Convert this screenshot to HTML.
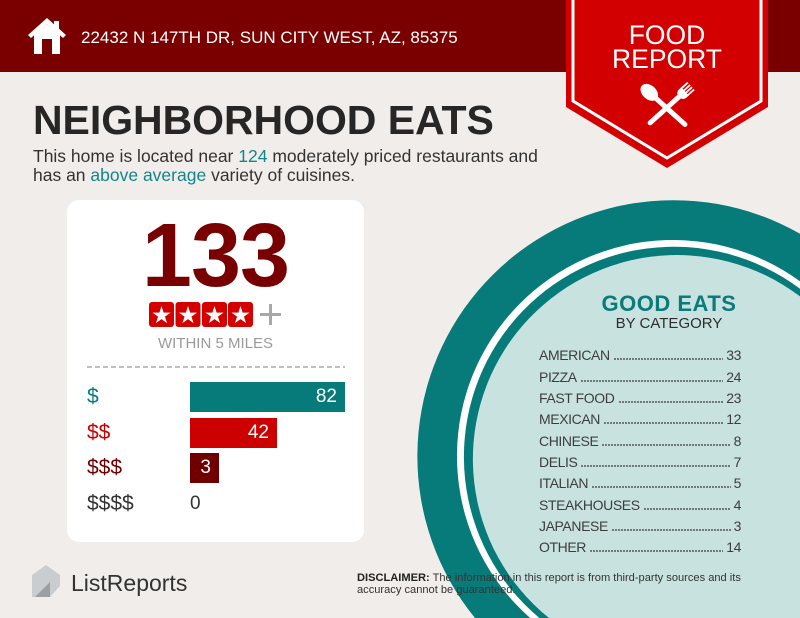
<!DOCTYPE html>
<html><head><meta charset="utf-8">
<style>
*{margin:0;padding:0;box-sizing:border-box}
html,body{width:800px;height:618px;overflow:hidden;background:#f1edea;font-family:"Liberation Sans",sans-serif}
.abs{position:absolute;white-space:nowrap}
#hdr{position:absolute;left:0;top:0;width:800px;height:72px;background:#7a0000}
.teal{color:#12868a}
.row{position:absolute;left:539px;width:202px;height:21.33px;display:flex;align-items:baseline;font-size:14px;letter-spacing:-0.4px;color:#3d3d3d;line-height:21.33px}
.row .d{flex:1;height:2px;margin:0 3px 0 4px;background-image:radial-gradient(circle at 1px 1px,#555 0.75px,transparent 1.15px);background-size:3px 2px;background-repeat:repeat-x}
.lbl{position:absolute;left:87px;font-size:21px;line-height:30px;height:30px}
.bar{position:absolute;left:190px;height:30px;color:#fff;font-size:19px;line-height:30px;text-align:right;padding-right:8px}
</style></head><body>
<div id="hdr"></div>

<svg class="abs" style="left:0;top:0;display:block" width="800" height="618" viewBox="0 0 800 618">
  <!-- big circle (clipped to frame) -->
  <path d="M800,233.7 A256,256 0 0,0 475,618 L800,618 Z" fill="#077a7a"/>
  <path d="M800,281.3 A216,216 0 0,0 530.1,618 L800,618 Z" fill="#ffffff"/>
  <path d="M800,288.8 A210,210 0 0,0 539.4,618 L800,618 Z" fill="#077a7a"/>
  <path d="M800,296.4 A204,204 0 0,0 549,618 L800,618 Z" fill="#c8e2df"/>
  <!-- house icon -->
  <polygon points="47,18 28,35 31,38 47,24 63,38 66,35" fill="#fff"/>
  <rect x="54" y="21" width="5" height="8" fill="#fff"/>
  <polygon points="34,35 47,24 60,35 60,54 52,54 52,39 42,39 42,54 34,54" fill="#fff"/>
  <!-- ribbon -->
  <polygon points="566,0 768,0 768,107 667,168 566,107" fill="#d20000"/>
  <polyline points="573,0 573,101 667,158 761,101 761,0" fill="none" stroke="#fff" stroke-width="3"/>
  <!-- spoon -->
  <g transform="translate(642.6,86.3) rotate(-48)" fill="#fff">
    <ellipse cx="0" cy="9" rx="7" ry="10"/>
    <line x1="0" y1="16" x2="0" y2="57" stroke="#fff" stroke-width="5" stroke-linecap="round"/>
  </g>
  <!-- fork -->
  <g transform="translate(691,86) rotate(48)" fill="#fff">
    <rect x="-5.5" y="0" width="1.8" height="9"/>
    <rect x="-2.3" y="0" width="1.8" height="9"/>
    <rect x="0.7" y="0" width="1.8" height="9"/>
    <rect x="3.8" y="0" width="1.8" height="9"/>
    <path d="M-5.5,8 L5.6,8 L5.6,11 Q5.6,15 1.8,16 L-1.8,16 Q-5.5,15 -5.5,11 Z"/>
    <line x1="0" y1="15" x2="0" y2="55" stroke="#fff" stroke-width="5" stroke-linecap="round"/>
  </g>
  <!-- card -->
  <rect x="67" y="200" width="297" height="342" rx="12" ry="12" fill="#ffffff"/>
  <!-- stars -->
  <g fill="#d40000">
    <rect x="149" y="302" width="25" height="25" rx="3"/>
    <rect x="175.5" y="302" width="25" height="25" rx="3"/>
    <rect x="202" y="302" width="25" height="25" rx="3"/>
    <rect x="228" y="302" width="25" height="25" rx="3"/>
  </g>
  <g fill="#fff">
    <polygon transform="translate(161.5,315.5) scale(9.5)" points="0,-1 0.2245,-0.309 0.951,-0.309 0.363,0.118 0.588,0.809 0,0.382 -0.588,0.809 -0.363,0.118 -0.951,-0.309 -0.2245,-0.309"/>
    <polygon transform="translate(188,315.5) scale(9.5)" points="0,-1 0.2245,-0.309 0.951,-0.309 0.363,0.118 0.588,0.809 0,0.382 -0.588,0.809 -0.363,0.118 -0.951,-0.309 -0.2245,-0.309"/>
    <polygon transform="translate(214.5,315.5) scale(9.5)" points="0,-1 0.2245,-0.309 0.951,-0.309 0.363,0.118 0.588,0.809 0,0.382 -0.588,0.809 -0.363,0.118 -0.951,-0.309 -0.2245,-0.309"/>
    <polygon transform="translate(240.5,315.5) scale(9.5)" points="0,-1 0.2245,-0.309 0.951,-0.309 0.363,0.118 0.588,0.809 0,0.382 -0.588,0.809 -0.363,0.118 -0.951,-0.309 -0.2245,-0.309"/>
  </g>
  <g stroke="#a8a8a8" stroke-width="3">
    <line x1="260" y1="314.5" x2="281" y2="314.5"/>
    <line x1="270.5" y1="304" x2="270.5" y2="325"/>
  </g>
  <line x1="87" y1="367" x2="345" y2="367" stroke="#aaaaaa" stroke-width="1.5" stroke-dasharray="5 3"/>
  <!-- ListReports logo icon -->
  <polygon points="32,597 32,575 46,565 60,575 60,586 50,597" fill="#c9cdd0"/>
  <polygon points="35,597 50,597 50,582" fill="#9c9fa2"/>
</svg>

<div class="abs" style="left:81px;top:29px;font-size:17px;line-height:17px;color:#fff">22432 N 147TH DR, SUN CITY WEST, AZ, 85375</div>
<div class="abs" style="left:566px;width:202px;top:23px;text-align:center;font-size:26.5px;line-height:24px;color:#fff">FOOD<br>REPORT</div>

<div class="abs" style="left:33px;top:100px;font-size:41px;line-height:41px;font-weight:bold;color:#262626;letter-spacing:-0.05px">NEIGHBORHOOD EATS</div>
<div class="abs" style="left:33px;top:146.5px;font-size:17.5px;line-height:19px;color:#333">This home is located near <span class="teal">124</span> moderately priced restaurants and<br>has an <span class="teal">above average</span> variety of cuisines.</div>

<div class="abs" style="left:67px;width:297px;top:211px;text-align:center;font-size:90px;line-height:90px;font-weight:bold;color:#780000;letter-spacing:-1px">133</div>
<div class="abs" style="left:67px;width:297px;top:336px;text-align:center;font-size:15px;line-height:15px;color:#9a9a9a">WITHIN 5 MILES</div>

<div class="lbl" style="top:382px;color:#077a7a">$</div>
<div class="lbl" style="top:418px;color:#cc0000">$$</div>
<div class="lbl" style="top:453px;color:#700000">$$$</div>
<div class="lbl" style="top:489px;color:#333">$$$$</div>
<div class="bar" style="top:382px;width:155px;background:#077a7a">82</div>
<div class="bar" style="top:418px;width:87px;background:#cc0000">42</div>
<div class="bar" style="top:453px;width:29px;background:#700000">3</div>
<div class="abs" style="left:190px;top:489px;font-size:19px;line-height:30px;color:#333">0</div>

<div class="abs" style="left:569px;width:200px;top:293px;text-align:center;font-size:22px;line-height:22px;font-weight:bold;color:#0a7a7a;letter-spacing:0.5px">GOOD EATS</div>
<div class="abs" style="left:569px;width:200px;top:316px;text-align:center;font-size:15px;line-height:15px;color:#2e2e2e">BY CATEGORY</div>

<div class="row" style="top:345.3px"><span>AMERICAN</span><span class="d"></span><span>33</span></div>
<div class="row" style="top:366.7px"><span>PIZZA</span><span class="d"></span><span>24</span></div>
<div class="row" style="top:388px"><span>FAST FOOD</span><span class="d"></span><span>23</span></div>
<div class="row" style="top:409.3px"><span>MEXICAN</span><span class="d"></span><span>12</span></div>
<div class="row" style="top:430.7px"><span>CHINESE</span><span class="d"></span><span>8</span></div>
<div class="row" style="top:452px"><span>DELIS</span><span class="d"></span><span>7</span></div>
<div class="row" style="top:473.3px"><span>ITALIAN</span><span class="d"></span><span>5</span></div>
<div class="row" style="top:494.7px"><span>STEAKHOUSES</span><span class="d"></span><span>4</span></div>
<div class="row" style="top:516px"><span>JAPANESE</span><span class="d"></span><span>3</span></div>
<div class="row" style="top:537.3px"><span>OTHER</span><span class="d"></span><span>14</span></div>

<div class="abs" style="left:71px;top:571.5px;font-size:23px;line-height:23px;color:#333">ListReports</div>
<div class="abs" style="left:357px;top:573px;font-size:11.1px;line-height:11.5px;color:#333"><b style="color:#222">DISCLAIMER:</b> The information in this report is from third-party sources and its<br>accuracy cannot be guaranteed.</div>
</body></html>
